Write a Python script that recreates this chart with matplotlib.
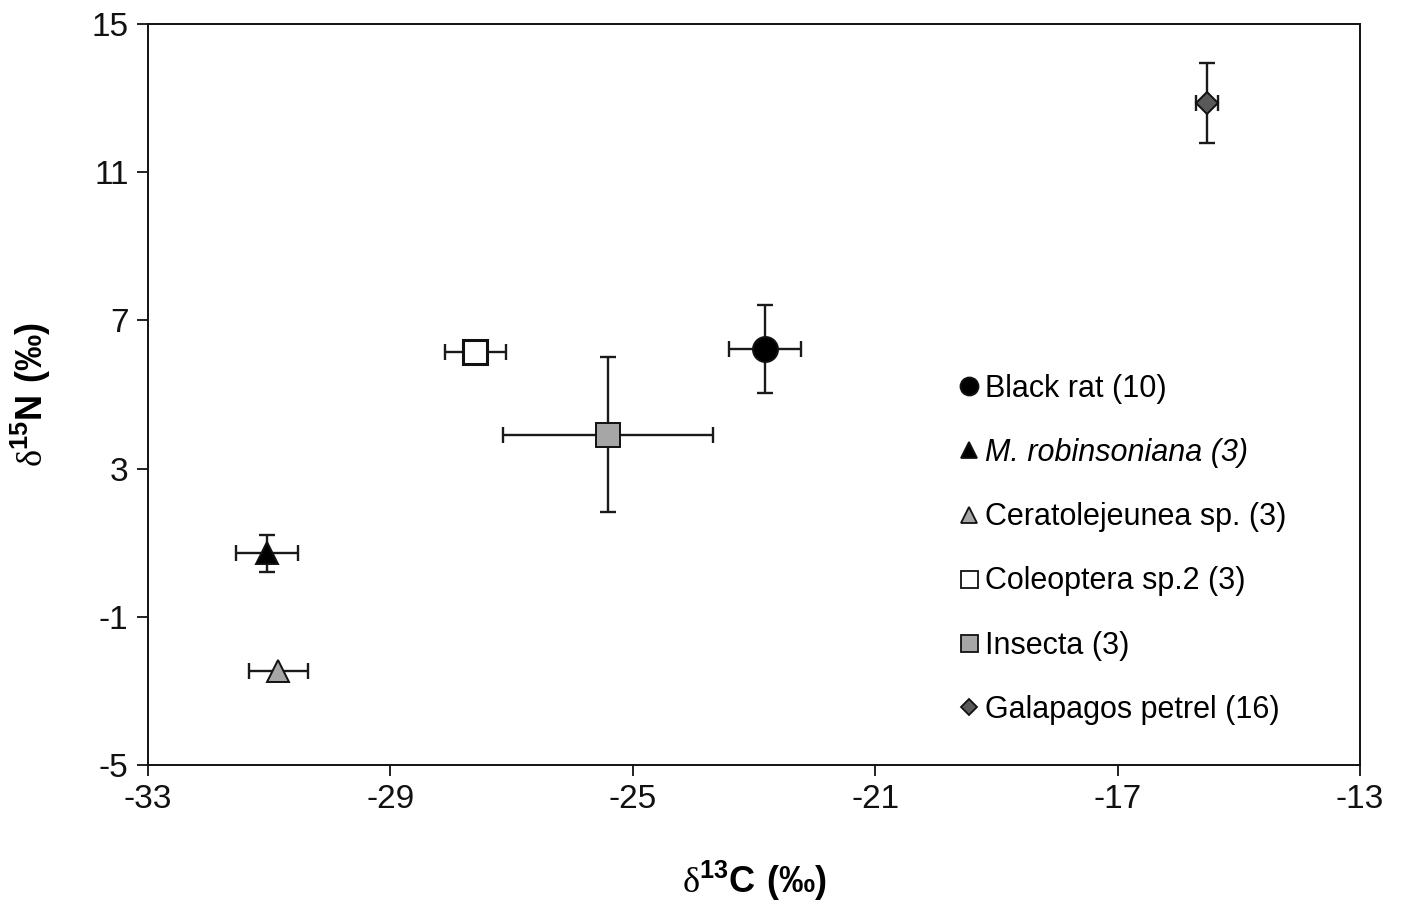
import matplotlib
matplotlib.use("Agg")
import matplotlib.pyplot as plt
from matplotlib import font_manager
from matplotlib.lines import Line2D

names = {f.name for f in font_manager.fontManager.ttflist}
tick_font = "Liberation Sans Narrow" if "Liberation Sans Narrow" in names else "Liberation Sans"
main_font = "Liberation Sans"

plt.rcParams["font.family"] = [main_font, "DejaVu Sans"]
plt.rcParams["mathtext.fontset"] = "custom"
plt.rcParams["mathtext.rm"] = "Liberation Serif"
plt.rcParams["mathtext.bf"] = "Liberation Sans:bold"

# ---- data ----
labels = ["Black rat (10)", "M. robinsoniana (3)", "Ceratolejeunea sp. (3)",
          "Coleoptera sp.2 (3)", "Insecta (3)", "Galapagos petrel (16)"]
d13C = [-22.82, -31.03, -30.85, -27.60, -25.41, -15.52]
d15N = [6.22, 0.71, -2.45, 6.14, 3.91, 12.86]
d13C_sd = [0.60, 0.51, 0.49, 0.50, 1.74, 0.18]
d15N_sd = [1.19, 0.49, 0.0, 0.0, 2.09, 1.08]
markers = ["o", "^", "^", "s", "s", "D"]
fills = ["#000000", "#000000", "#a6a6a6", "#ffffff", "#a6a6a6", "#595959"]
msizes = [18, 16, 16, 17, 17, 11]
xticks = [-33, -29, -25, -21, -17, -13]
yticks = [-5, -1, 3, 7, 11, 15]

fig = plt.figure(figsize=(14.01, 9.07), dpi=100)
ax = fig.add_axes([148/1401, 1-765/907, (1360-148)/1401, (765-24)/907])

for i in range(len(labels)):
    ax.errorbar(d13C[i], d15N[i], xerr=d13C_sd[i],
                yerr=d15N_sd[i] if d15N_sd[i] > 0 else None,
                fmt="none", ecolor="#1a1a1a", elinewidth=1.7, capsize=6, capthick=1.7, zorder=2)
    ax.plot(d13C[i], d15N[i], marker=markers[i], ms=msizes[i], mfc=fills[i],
            mec="#111111", mew=2.2 if fills[i] == "#ffffff" else 1.4, ls="none", zorder=3)

ax.set_xlim(-33, -13)
ax.set_ylim(-5, 15)
ax.set_xticks(xticks)
ax.set_yticks(yticks)
ax.set_xticklabels([str(t) for t in xticks], fontfamily=tick_font, fontsize=24)
ax.set_yticklabels([str(t) for t in yticks], fontfamily=tick_font, fontsize=24)
ax.tick_params(direction="out", length=8, width=1.3, pad=6, colors="#111111")
for s in ax.spines.values():
    s.set_linewidth(1.4)
    s.set_color("#111111")

ax.set_xlabel(r"$\mathrm{\delta}^{\mathbf{13}}\mathbf{C\ (‰)}$", fontsize=26, labelpad=31)
ax.set_ylabel(r"$\mathrm{\delta}^{\mathbf{15}}\mathbf{N\ (‰)}$", fontsize=26, labelpad=28)

handles = []
for i in range(len(labels)):
    handles.append(Line2D([], [], marker=markers[i], ls="none", ms=msizes[i]*0.72,
                          mfc=fills[i], mec="#111111", mew=1.3))
leg = ax.legend(handles, labels, loc="upper left", bbox_to_anchor=(0.670, 0.528),
                frameon=False, fontsize=22, handlelength=0.6, handletextpad=0.22,
                labelspacing=1.12, borderpad=0, borderaxespad=0)
leg.get_texts()[1].set_fontstyle("italic")

fig.savefig("out.png", dpi=100)
